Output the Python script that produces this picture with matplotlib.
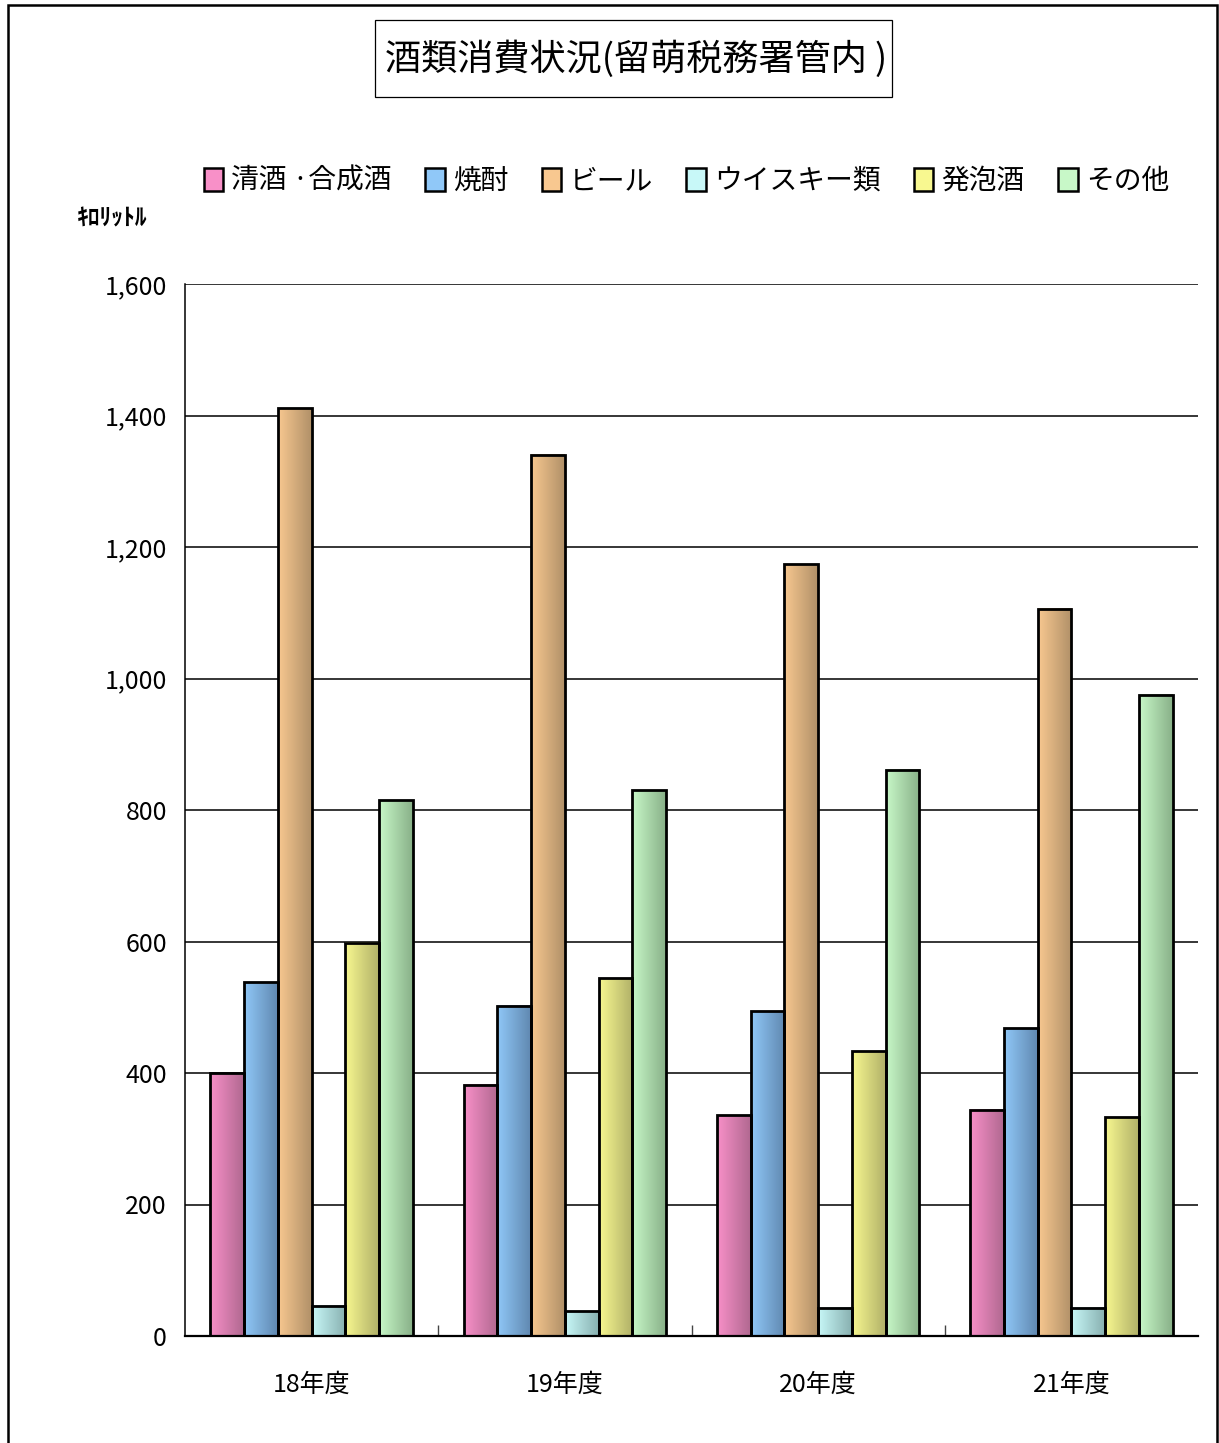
import matplotlib
matplotlib.use("Agg")
import matplotlib.pyplot as plt
import numpy as np
from matplotlib.colors import LinearSegmentedColormap
from matplotlib.patches import Patch, Rectangle

plt.rcParams['font.family'] = ['Noto Sans CJK JP', 'DejaVu Sans']

# データ (キロリットル)
years = ["18年度", "19年度", "20年度", "21年度"]
series = ["清酒 ·合成酒", "焼酎", "ビール", "ウイスキー類", "発泡酒", "その他"]
seishu = [400, 382, 336, 344]
shochu = [538, 502, 494, 468]
beer = [1411, 1340, 1174, 1106]
whisky = [46, 38, 43, 43]
happoshu = [598, 544, 433, 333]
sonota = [815, 830, 861, 975]
values = [seishu, shochu, beer, whisky, happoshu, sonota]

# グラデーション (左:明るい → 右:暗い)
light = ["#F890C8", "#90C8F8", "#F8C890", "#C8F8F8", "#F8F890", "#C8F8C8"]
dark = ["#B06890", "#6088B0", "#B09068", "#88B0B0", "#B0B068", "#88B088"]

fig = plt.figure(figsize=(12.19, 14.43), dpi=100)
ax = fig.add_axes([185/1219, 1-1336/1443, (1198-185)/1219, (1336-284)/1443])

x = np.arange(len(years))
w = 0.8 / len(series)
grad = np.linspace(0, 1, 256).reshape(1, -1)
for j, vals in enumerate(values):
    pos = x - 0.4 + (j + 0.5) * w
    bars = ax.bar(pos, vals, w, facecolor="none", edgecolor="black", linewidth=2.0, zorder=3)
    cmap = LinearSegmentedColormap.from_list("g%d" % j, [light[j], dark[j]])
    for b in bars:
        x0, y0 = b.get_x(), b.get_y()
        ax.imshow(grad, cmap=cmap, aspect="auto", zorder=2.5,
                  extent=(x0, x0 + b.get_width(), y0, y0 + b.get_height()))

ax.set_xlim(-0.5, len(years) - 0.5)
ax.set_ylim(0, 1600)
ax.set_yticks(np.arange(0, 1601, 200))
ax.set_yticklabels(["{:,}".format(v) for v in range(0, 1601, 200)], fontsize=18)
ax.yaxis.grid(True, color="black", linewidth=1.1)
ax.set_axisbelow(True)
ax.tick_params(axis="y", length=0, pad=13)
ax.set_xticks(x)
ax.set_xticklabels(years, fontsize=18)
ax.tick_params(axis="x", length=0, pad=26)
ax.set_xticks(np.arange(0.5, len(years) - 0.5, 1), minor=True)
ax.tick_params(axis="x", which="minor", direction="in", length=8, width=1, color="#444444")
for s in ["top", "right"]:
    ax.spines[s].set_visible(False)
ax.spines["left"].set_linewidth(1.1)
ax.spines["bottom"].set_linewidth(1.6)

# 凡例
handles = [Patch(facecolor=c, edgecolor="black", linewidth=1.8) for c in light]
fig.legend(handles, series, loc="center", bbox_to_anchor=(0.563, 1-181/1443), ncol=6,
           frameon=False, fontsize=20, handlelength=0.7, handleheight=0.9,
           handletextpad=0.3, columnspacing=1.2, borderaxespad=0)

fig.text(77/1219, 1-218/1443, "ｷﾛﾘｯﾄﾙ", fontsize=17, fontweight="bold", va="center", ha="left")

# タイトル枠
fig.patches.append(Rectangle((375/1219, 1-97/1443), 517/1219, 77/1443, transform=fig.transFigure,
                             facecolor="white", edgecolor="black", linewidth=0.9))
fig.text(636/1219, 1-59/1443, "酒類消費状況(留萌税務署管内 )", fontsize=26, ha="center", va="center")

fig.patches.append(Rectangle((8/1219, -0.01), 1209/1219, 1.01 - 5/1443, transform=fig.transFigure,
                             fill=False, edgecolor="black", linewidth=1.8))

fig.savefig("out.png", dpi=100)
